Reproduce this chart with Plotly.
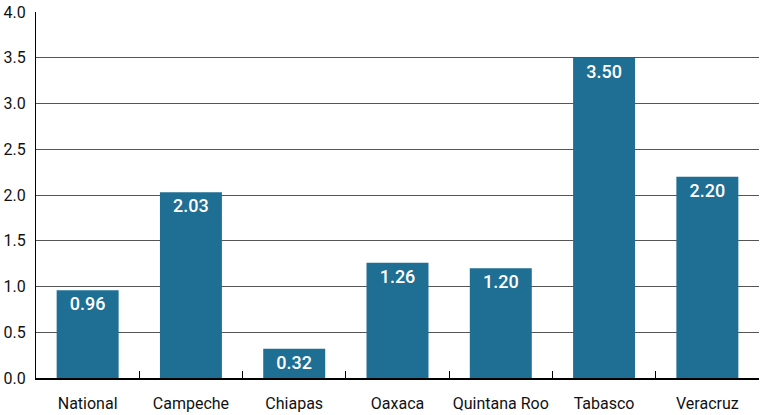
import plotly.graph_objects as go

categories = ["National", "Campeche", "Chiapas", "Oaxaca", "Quintana Roo", "Tabasco", "Veracruz"]
values = [0.96, 2.03, 0.32, 1.26, 1.20, 3.50, 2.20]
y_ticks = [0, 0.5, 1.0, 1.5, 2.0, 2.5, 3.0, 3.5, 4.0]
y_tick_labels = ["0.0", "0.5", "1.0", "1.5", "2.0", "2.5", "3.0", "3.5", "4.0"]

font_fam = "Liberation Sans Narrow, Roboto, Arial Narrow, sans-serif"

fig = go.Figure(go.Bar(
    x=categories, y=values,
    marker=dict(color="#1f6e94", line=dict(width=0)),
    width=0.6,
    text=[f"{v:.2f}" for v in values],
    textposition="inside",
    insidetextanchor="end",
    constraintext="none",
    textfont=dict(color="white", size=18, family="Roboto", weight=500),
))

fig.update_layout(
    width=760, height=415,
    margin=dict(l=36, r=1, t=12, b=37, autoexpand=False),
    plot_bgcolor="white", paper_bgcolor="white",
    showlegend=False,
    bargap=0.4,
    font=dict(family=font_fam, size=15, color="#111"),
    xaxis=dict(
        showline=True, linecolor="black", linewidth=1.5,
        ticks="inside", tickson="boundaries", ticklen=7, tickcolor="black", tickwidth=1,
        showgrid=False, tickangle=0, automargin=False,
        tickfont=dict(family=font_fam, size=16, color="#111"),
        ticklabelstandoff=10,
    ),
    yaxis=dict(
        range=[0, 4], tickvals=y_ticks, ticktext=y_tick_labels,
        showline=True, linecolor="black", linewidth=1,
        showgrid=True, gridcolor="#555", gridwidth=1,
        zeroline=False, ticks="", automargin=False,
        tickfont=dict(family="Roboto", size=16, color="#111"),
        ticklabelstandoff=6,
    ),
)

fig.write_html("out.html", config={"displayModeBar": False},
               post_script="document.body.style.margin='0';")
